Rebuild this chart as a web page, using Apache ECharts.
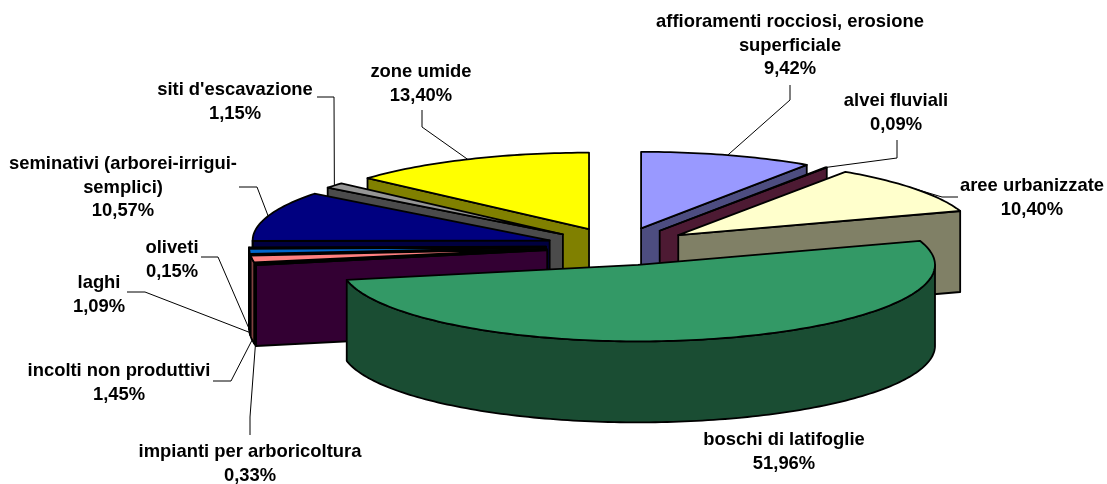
<!DOCTYPE html>
<html>
<head>
<meta charset="utf-8">
<title>Uso del suolo</title>
<script src="https://cdn.jsdelivr.net/npm/echarts@6/dist/echarts.min.js"></script>
<style>
	html, body { margin: 0; padding: 0; background: #fff; }
	#chart { width: 1107px; height: 484px; }
</style>
</head>
<body>
<div id="chart"></div>
<script>
	// dati
	var categories = ['affioramenti rocciosi, erosione\nsuperficiale', 'alvei fluviali', 'aree urbanizzate',
		'boschi di latifoglie', 'impianti per arboricoltura', 'incolti non produttivi', 'laghi', 'oliveti',
		'seminativi (arborei-irrigui-\nsemplici)', "siti d'escavazione", 'zone umide'];
	var shares = [9.42, 0.09, 10.40, 51.96, 0.33, 1.45, 1.09, 0.15, 10.57, 1.15, 13.40];

	// stile delle fette
	var colors = ['#9999FF', '#993366', '#FFFFCC', '#339966', '#660066', '#FF8080', '#0066CC', '#CCCCFF',
		'#000080', '#969696', '#FFFF00'];
	var sideColors = ['#4D4D80', '#4D1A33', '#808066', '#1A4D33', '#330033', '#804040', '#003366', '#666680',
		'#000040', '#4B4B4B', '#808000'];
	var explodeX = [86, 78, 78, 86, 70, 70, 70, 70, 70, 69, 66];

	// posizione etichette: centro x, y prima riga
	var labelX = [790, 896, 1032, 784, 250, 119, 99, 172, 123, 235, 421];
	var labelY = [22, 101, 186, 440, 452, 371, 283, 248, 164, 90, 72];
	// spezzata della linea guida, dall'etichetta verso la fetta
	var leaders = [
		[[790, 85], [790, 100]],
		[[897, 140], [897, 158]],
		[[958, 197], [942, 197]],
		null,
		[[250, 435], [250, 417]],
		[[213, 381], [231, 381]],
		[[127, 292], [145, 292]],
		[[201, 257], [218, 257]],
		[[239, 187], [257, 187]],
		[[317, 97], [334, 97]],
		[[422, 110], [422, 127]]
	];

	var CX = 616, CY = 246.5, EXPLODE_Y = 19, RX = 297, RY = 76.5, DEPTH = 81;

	var total = 0;
	shares.forEach(function(v) { total += v; });

	var slices = [];
	var acc = 0;
	shares.forEach(function(v, i) {
		var a0 = acc / total * Math.PI * 2;
		acc += v;
		var a1 = acc / total * Math.PI * 2;
		var mid = (a0 + a1) / 2;
		slices.push({
			index: i,
			a0: a0,
			a1: a1,
			mid: mid,
			ax: CX + explodeX[i] * Math.sin(mid),
			ay: CY - EXPLODE_Y * Math.cos(mid)
		});
	});

	// punto sul bordo della fetta (ellisse)
	function rimPoint(s, a) {
		return [s.ax + RX * Math.sin(a), s.ay - RY * Math.cos(a)];
	}

	function arcPoints(s, from, to) {
		var pts = [];
		var n = Math.max(2, Math.ceil((to - from) / 0.02));
		for (var k = 0; k <= n; k++) {
			pts.push(rimPoint(s, from + (to - from) * k / n));
		}
		return pts;
	}

	function down(pts) {
		return pts.map(function(p) { return [p[0], p[1] + DEPTH]; });
	}

	function face(points, fill) {
		return {
			type: 'polygon',
			shape: { points: points },
			style: { fill: fill, stroke: '#000', lineWidth: 1.8, lineJoin: 'round' }
		};
	}

	function renderSlice(params, api) {
		var s = slices[api.value(0)];
		var side = sideColors[s.index];
		var apex = [s.ax, s.ay];
		var children = [];

		// faccia di taglio iniziale / finale, solo se rivolte verso chi guarda
		if (Math.sin(s.a0) < -0.001) {
			var p0 = rimPoint(s, s.a0);
			children.push(face([p0, apex].concat(down([apex, p0])), side));
		}
		if (Math.sin(s.a1) > 0.001) {
			var p1 = rimPoint(s, s.a1);
			children.push(face([p1, apex].concat(down([apex, p1])), side));
		}
		// parete esterna
		var from = Math.max(s.a0, Math.PI / 2);
		var to = Math.min(s.a1, Math.PI * 1.5);
		if (to > from) {
			var wall = arcPoints(s, from, to);
			children.push(face(wall.concat(down(wall).reverse()), side));
		}
		// faccia superiore
		children.push(face([apex].concat(arcPoints(s, s.a0, s.a1)), colors[s.index]));

		return { type: 'group', children: children };
	}

	// prima le fette dietro, poi quelle davanti
	var drawOrder = slices.slice().sort(function(a, b) {
		return Math.cos(b.mid) - Math.cos(a.mid);
	}).map(function(s) { return [s.index]; });

	var graphics = [];
	slices.forEach(function(s) {
		var i = s.index;
		if (leaders[i]) {
			var end = rimPoint(s, s.mid);
			if (Math.cos(s.mid) < 0) {
				end[1] += DEPTH;
			}
			graphics.push({
				type: 'polyline',
				silent: true,
				z: 10,
				shape: { points: leaders[i].concat([end]) },
				style: { fill: null, stroke: '#000', lineWidth: 1 }
			});
		}
		graphics.push({
			type: 'text',
			silent: true,
			z: 10,
			x: labelX[i],
			y: labelY[i] - 11.5,
			style: {
				text: categories[i] + '\n' + shares[i].toFixed(2).replace('.', ',') + '%',
				fill: '#000',
				font: 'bold 18.4px "Liberation Sans", Arial, sans-serif',
				lineHeight: 23.5,
				align: 'center',
				verticalAlign: 'top'
			}
		});
	});

	var chart = echarts.init(document.getElementById('chart'), null, { renderer: 'canvas' });
	chart.setOption({
		animation: false,
		backgroundColor: '#fff',
		tooltip: { show: false },
		series: [{
			type: 'custom',
			coordinateSystem: 'none',
			silent: true,
			renderItem: renderSlice,
			data: drawOrder
		}],
		graphic: graphics
	});
</script>
</body>
</html>
